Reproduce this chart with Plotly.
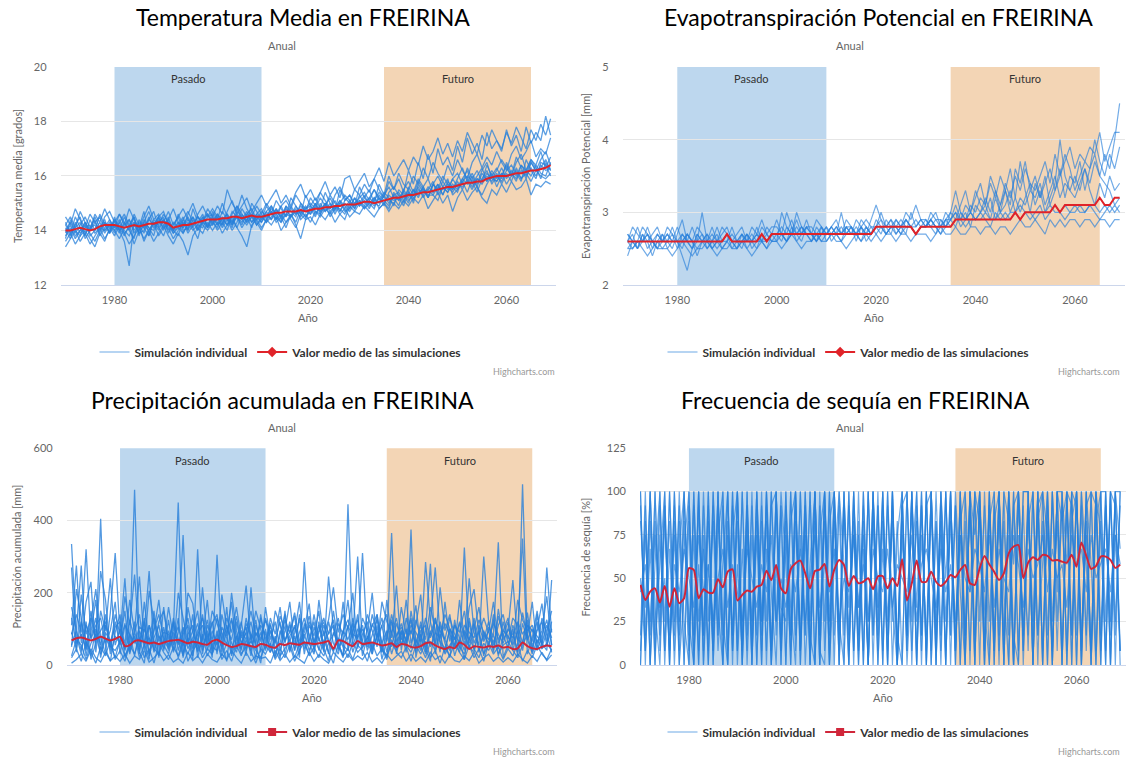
import plotly.graph_objects as go

# ---------------- data ----------------
YEARS = list(range(1970, 2070))

TEMP_MEAN = [14.0,14.0,14.05,14.1,14.05,14.0,14.05,14.15,14.2,14.2,
             14.2,14.15,14.1,14.15,14.2,14.15,14.2,14.25,14.25,14.3,
             14.3,14.25,14.1,14.15,14.2,14.2,14.25,14.3,14.35,14.4,
             14.4,14.4,14.45,14.45,14.5,14.5,14.45,14.5,14.55,14.5,
             14.5,14.55,14.6,14.65,14.65,14.7,14.7,14.7,14.75,14.7,
             14.75,14.8,14.8,14.85,14.85,14.9,14.9,14.95,14.95,14.95,
             15.0,15.05,15.05,15.0,15.05,15.1,15.15,15.2,15.2,15.25,
             15.3,15.3,15.35,15.4,15.4,15.45,15.5,15.55,15.6,15.6,
             15.65,15.7,15.75,15.75,15.8,15.8,15.9,15.95,16.0,16.0,
             16.0,16.05,16.1,16.1,16.15,16.2,16.2,16.25,16.3,16.4]

TEMP_SIM_1 = [14.3,13.9,14.5,14.1,13.8,14.4,14.0,14.6,14.2,13.9,
              14.5,14.0,13.6,12.7,14.3,14.1,14.7,13.8,14.4,14.2,
              14.6,14.3,13.9,14.2,14.5,14.0,14.8,14.3,14.6,14.1,
              14.7,14.4,15.0,14.5,14.2,14.9,14.6,14.3,15.0,14.7,
              14.4,14.9,14.6,15.1,14.8,14.5,15.2,14.9,14.6,15.3,
              14.9,15.2,14.8,15.4,15.0,14.7,15.5,15.1,15.3,14.9,
              15.6,15.2,15.5,15.0,15.7,15.3,16.0,15.5,15.9,15.4,
              16.2,15.7,16.5,15.9,16.8,16.1,17.0,16.4,16.7,16.2,
              17.1,16.5,17.4,16.8,17.2,16.6,17.6,17.0,17.3,16.9,
              17.7,17.1,17.5,16.9,17.8,17.2,17.6,17.3,18.2,17.5]
TEMP_SIM_2 = [13.6,13.9,13.5,13.8,14.0,13.7,13.4,13.9,13.6,14.1,
              13.8,14.2,13.9,13.5,13.8,14.1,13.7,14.0,13.6,13.9,
              14.2,13.8,13.5,13.9,13.6,13.1,13.8,14.1,13.9,14.3,
              14.0,14.3,13.9,14.2,14.5,14.1,13.8,13.4,14.2,14.4,
              14.1,14.4,14.2,14.5,14.0,14.3,14.6,14.2,13.7,14.4,
              14.5,14.2,14.6,14.4,14.7,14.3,14.6,14.8,14.5,14.7,
              14.6,14.9,14.7,14.5,14.8,15.0,14.7,15.0,14.8,15.1,
              14.9,15.2,15.0,15.3,14.8,15.1,15.4,15.0,15.3,14.7,
              15.2,15.5,15.1,15.4,15.6,15.2,15.0,15.5,15.3,15.7,
              15.4,15.8,15.5,15.6,15.9,15.3,15.7,15.6,15.8,15.7]
TEMP_SIM_3 = [14.2,14.5,14.1,14.7,14.3,14.0,14.6,14.3,14.8,14.4,
              14.1,14.6,14.3,14.0,14.5,13.8,14.3,14.7,14.2,14.5,
              14.0,14.4,14.8,14.3,14.1,14.6,15.0,14.5,14.3,14.8,
              14.5,14.9,14.6,15.5,15.0,14.7,15.3,14.8,14.5,14.9,
              14.6,15.0,14.7,14.4,14.9,15.1,14.8,15.3,15.0,14.7,
              15.2,14.9,15.4,15.1,14.8,15.3,15.6,15.2,15.0,15.5,
              15.3,15.7,15.4,15.9,15.5,15.2,15.8,15.5,16.1,15.7,
              15.5,16.0,15.7,16.3,15.9,16.5,16.1,15.8,16.4,16.0,
              16.6,16.2,15.9,16.5,16.8,16.3,16.7,16.4,16.9,16.5,
              16.2,16.8,17.1,16.6,16.9,17.3,16.7,17.0,16.8,17.4]
TEMP_SIM_4 = [13.8,14.1,13.7,14.0,14.2,13.9,13.6,14.0,14.3,13.9,
              14.2,13.9,14.3,14.0,13.7,14.4,14.1,13.8,14.3,14.0,
              14.4,14.1,13.7,14.0,14.3,13.9,14.2,14.5,14.2,14.0,
              14.3,14.1,14.5,14.2,14.4,14.1,14.6,14.3,14.5,14.2,
              14.5,14.3,14.7,14.4,14.6,14.3,14.5,14.8,14.4,14.6,
              14.3,14.7,14.5,14.8,14.6,14.9,14.6,14.4,14.9,14.7,
              15.0,14.8,15.1,14.9,15.2,15.0,14.8,15.3,15.1,15.4,
              15.1,15.3,15.6,15.2,15.5,15.3,15.1,15.6,15.4,15.7,
              15.5,15.8,15.4,15.9,15.6,15.3,15.7,16.0,15.8,16.1,
              15.7,16.0,16.2,15.9,16.1,15.8,16.2,16.0,15.9,16.1]
TEMP_SIM_5 = [14.5,14.2,14.8,14.4,14.1,14.6,14.3,14.0,14.5,14.7,
              14.3,14.6,14.2,14.8,14.4,14.1,14.5,14.9,14.4,14.6,
              14.3,14.7,14.2,14.5,14.8,14.4,14.1,14.6,14.9,14.5,
              14.8,14.5,14.2,14.7,15.1,14.6,14.9,15.2,14.7,15.0,
              15.3,14.9,15.2,15.5,15.0,15.3,14.9,15.4,15.7,15.2,
              15.5,15.1,15.4,15.8,15.3,15.6,15.2,15.9,16.0,15.5,
              15.8,16.1,15.6,15.9,16.3,15.8,16.5,16.0,16.3,16.6,
              16.2,16.7,16.4,17.1,16.6,16.9,17.4,16.8,17.2,16.7,
              17.3,16.9,17.6,17.2,16.8,17.5,17.1,17.7,17.3,17.0,
              17.6,17.2,17.8,17.4,17.0,17.7,17.3,17.9,17.5,18.1]
TEMP_SIM_6 = [13.4,13.7,14.0,13.6,13.9,13.5,13.8,14.1,13.7,14.0,
              14.4,14.0,14.5,14.1,14.6,14.2,13.9,14.4,14.7,14.1,
              13.8,14.3,14.0,14.6,14.2,14.5,14.1,13.7,14.4,14.6,
              14.2,14.6,14.3,14.0,14.6,14.9,14.4,14.7,14.3,14.6,
              14.8,14.4,14.9,14.6,14.3,14.9,14.7,14.5,15.0,14.8,
              15.0,14.8,15.2,14.9,15.3,15.0,14.7,15.1,15.3,15.0,
              15.2,15.4,15.1,15.5,15.2,14.9,15.4,15.6,15.3,15.0,
              15.6,15.3,15.8,15.5,15.2,15.7,16.0,15.6,15.4,15.9,
              16.1,15.7,16.3,15.9,16.2,15.8,16.4,16.0,16.3,15.9,
              16.5,16.1,15.8,16.4,16.2,16.6,16.3,15.9,16.5,16.2]
TEMP_SIM_7 = [14.0,14.3,13.9,14.2,14.5,14.1,14.4,13.8,14.1,14.4,
              14.0,13.7,14.1,14.4,13.9,14.2,13.6,14.0,14.3,13.8,
              14.1,14.5,14.0,14.3,13.9,14.2,14.5,14.0,14.3,14.1,
              14.4,14.0,14.3,14.6,14.2,14.5,14.1,14.4,14.7,14.3,
              14.0,14.4,14.7,14.3,14.5,14.9,14.4,14.1,14.6,14.9,
              14.6,15.0,14.7,15.0,14.5,14.8,15.1,14.7,14.8,15.2,
              14.9,15.1,14.8,15.2,15.0,15.3,15.6,15.2,14.9,15.5,
              15.8,15.4,15.9,15.6,15.2,15.7,15.5,16.0,15.7,15.5,
              15.9,16.3,15.8,16.1,15.7,16.2,16.5,15.9,16.2,16.6,
              16.3,16.0,16.5,16.8,16.2,16.6,16.4,16.9,16.3,16.7]
TEMP_SIM_8 = [14.1,13.8,14.2,14.5,13.7,14.0,14.3,14.5,14.0,14.2,
              13.9,14.3,14.6,14.2,13.5,14.0,14.4,14.1,13.8,14.5,
              14.7,14.2,14.0,13.8,14.4,14.7,14.3,14.0,14.5,14.2,
              14.5,14.2,14.7,14.4,14.0,14.3,14.8,14.5,14.1,14.6,
              14.3,14.7,14.4,14.8,14.5,14.1,14.6,14.3,14.8,14.5,
              14.7,15.0,14.6,14.9,15.2,14.8,15.0,15.3,15.1,14.8,
              15.3,15.0,15.2,15.5,15.1,15.4,15.2,14.9,15.5,15.3,
              15.0,15.5,15.2,15.6,15.9,15.4,15.7,15.3,15.8,15.6,
              15.4,15.9,16.2,15.7,16.0,16.3,15.8,16.1,15.6,16.0,
              16.4,16.0,16.7,16.3,15.9,16.5,16.2,16.6,16.9,16.4]
TEMP_SIM_9 = [14.2,13.9,14.1,14.3,13.9,14.1,14.2,13.9,14.3,14.1,
              14.3,14.0,14.2,14.4,14.0,14.3,14.1,14.4,14.2,14.5,
              14.2,14.4,14.0,14.3,14.1,14.4,14.2,14.5,14.3,14.6,
              14.3,14.6,14.4,14.2,14.7,14.5,14.3,14.6,14.8,14.4,
              14.7,14.5,14.8,14.6,14.9,14.5,14.8,14.6,14.9,14.7,
              14.6,14.9,14.7,15.0,14.8,15.1,14.7,15.0,14.8,15.2,
              14.9,15.2,15.0,14.8,15.3,15.1,14.9,15.4,15.1,15.5,
              15.2,15.5,15.3,15.6,15.2,15.7,15.4,15.8,15.5,15.9,
              15.6,15.9,15.7,16.0,15.6,16.1,15.8,16.2,15.9,16.3,
              15.9,16.2,16.0,16.4,16.1,16.5,16.2,16.3,16.6,16.2]
TEMP_SIM_10 = [13.9,14.2,13.8,14.0,14.3,13.8,14.0,14.3,13.9,14.2,
               14.0,14.3,13.9,14.1,14.3,13.9,14.2,14.0,14.3,14.1,
               14.4,14.0,14.3,14.1,13.9,14.3,14.0,14.2,14.5,14.1,
               14.5,14.2,14.4,14.6,14.3,14.5,14.2,14.6,14.3,14.5,
               14.3,14.6,14.4,14.7,14.5,14.8,14.5,14.7,14.5,14.8,
               14.9,14.6,14.9,14.7,15.0,14.6,15.0,14.8,15.1,14.8,
               15.1,14.9,15.2,15.0,14.9,15.3,15.0,15.3,15.4,15.1,
               15.4,15.1,15.5,15.3,15.6,15.4,15.7,15.3,15.7,15.5,
               15.8,15.5,15.9,15.6,15.9,15.7,16.0,15.8,16.1,15.7,
               16.1,15.8,16.3,15.9,16.2,16.0,16.4,16.1,16.0,16.5]
TEMP_SIM_11 = [14.0,13.7,14.3,13.9,14.1,14.2,13.9,14.1,14.0,14.3,
               14.1,14.4,14.0,13.8,14.2,14.0,14.3,14.1,14.0,14.4,
               14.1,14.2,13.9,14.1,14.4,14.0,14.4,14.1,14.3,14.2,
               14.2,14.5,14.1,14.4,14.3,14.6,14.4,14.2,14.5,14.4,
               14.6,14.3,14.5,14.8,14.4,14.6,14.9,14.6,14.7,14.5,
               14.8,14.5,15.0,14.7,14.9,14.8,15.1,14.9,14.7,15.0,
               15.1,14.8,15.0,15.2,14.8,15.0,15.3,15.1,15.2,14.9,
               15.4,15.2,15.4,15.5,15.3,15.3,15.6,15.5,15.6,15.4,
               15.7,15.6,15.8,15.5,15.9,15.8,16.1,15.9,15.8,16.1,
               16.0,16.1,15.9,16.2,16.0,16.3,16.0,16.4,16.2,16.3]
TEMP_SIM_12 = [13.7,14.4,14.0,13.8,14.3,14.0,14.5,14.1,14.4,13.9,
               14.4,14.1,13.8,14.2,14.5,13.9,14.0,14.5,14.1,14.3,
               14.5,13.9,14.2,14.5,14.0,14.1,14.5,14.2,14.1,14.5,
               14.6,14.3,14.2,14.5,14.1,14.7,14.5,14.4,14.6,14.2,
               14.4,14.7,14.9,14.5,14.3,14.6,14.5,14.9,14.6,14.4,
               14.9,14.7,14.6,15.0,14.7,14.9,14.8,14.6,15.0,14.9,
               15.0,15.3,14.9,15.1,15.4,15.2,15.1,15.0,15.3,15.2,
               15.5,15.0,15.7,15.4,15.5,15.8,15.3,15.6,15.9,15.3,
               15.5,15.8,16.0,15.8,15.4,15.9,16.2,15.7,16.0,15.8,
               16.2,16.4,16.1,15.8,16.6,16.2,15.9,16.5,16.4,16.0]

ET_MEAN = [2.6,2.6,2.6,2.6,2.6,2.6,2.6,2.6,2.6,2.6,
           2.6,2.6,2.6,2.6,2.6,2.6,2.6,2.6,2.6,2.6,
           2.7,2.6,2.6,2.6,2.6,2.6,2.6,2.7,2.6,2.7,
           2.7,2.7,2.7,2.7,2.7,2.7,2.7,2.7,2.7,2.7,
           2.7,2.7,2.7,2.7,2.7,2.7,2.7,2.7,2.7,2.7,
           2.8,2.8,2.8,2.8,2.8,2.8,2.8,2.8,2.7,2.8,
           2.8,2.8,2.8,2.8,2.8,2.8,2.9,2.9,2.9,2.9,
           2.9,2.9,2.9,2.9,2.9,2.9,2.9,2.9,3.0,2.9,
           3.0,3.0,3.0,3.0,3.0,3.0,3.1,3.0,3.1,3.1,
           3.1,3.1,3.1,3.1,3.1,3.2,3.1,3.1,3.2,3.2]

ET_SIM_1 = [2.6,2.7,2.5,2.6,2.8,2.6,2.5,2.7,2.6,2.8,
            2.6,2.4,2.2,2.5,2.7,2.6,2.5,2.6,2.7,2.5,
            2.6,2.8,2.6,2.5,2.7,2.6,2.8,2.6,2.5,2.7,
            2.9,2.7,2.6,2.8,2.7,2.6,2.8,2.7,2.6,2.8,
            2.7,2.8,2.7,2.6,2.8,2.7,2.7,2.8,2.6,2.7,
            2.8,2.7,2.9,2.8,2.7,2.8,2.9,2.8,2.7,2.8,
            2.9,2.8,2.7,2.9,2.8,2.9,3.1,2.9,3.0,2.8,
            3.1,3.0,3.2,3.0,3.3,3.1,3.4,3.2,3.5,3.3,
            3.6,3.4,3.3,3.5,3.7,3.4,3.8,3.5,3.7,3.9,
            3.6,3.8,3.7,3.9,3.8,4.1,3.7,3.9,4.1,4.1]
ET_SIM_2 = [2.5,2.6,2.5,2.7,2.5,2.6,2.5,2.5,2.6,2.5,
            2.7,2.9,2.6,2.5,2.6,3.0,2.6,2.5,2.6,2.5,
            2.5,2.6,2.5,2.6,2.7,2.5,2.6,2.6,2.7,2.6,
            2.7,2.8,2.7,2.9,2.7,2.8,2.7,2.6,2.7,2.8,
            2.7,2.7,2.8,2.7,2.8,2.7,2.9,2.8,2.7,2.8,
            2.7,2.8,2.8,2.9,2.8,2.7,2.8,2.8,2.9,2.8,
            2.8,2.9,2.8,2.7,2.9,2.9,2.8,3.0,2.9,3.0,
            2.9,3.0,3.1,2.9,3.2,3.0,3.1,3.3,3.0,3.2,
            3.1,3.3,3.2,3.4,3.1,3.3,3.5,3.2,3.4,3.3,
            3.5,3.3,3.6,3.4,3.7,3.5,3.8,3.6,4.0,4.5]
ET_SIM_3 = [2.7,2.6,2.8,2.6,2.7,2.5,2.7,2.6,2.8,2.7,
            2.5,2.7,2.6,2.8,2.6,2.7,2.5,2.6,2.8,2.6,
            2.7,2.6,2.5,2.7,2.6,2.8,2.7,2.9,2.7,2.6,
            2.6,2.7,3.0,2.8,2.6,2.7,2.9,2.7,2.6,2.7,
            2.8,2.6,2.7,3.0,2.7,2.8,2.6,2.8,2.7,2.9,
            3.1,2.9,2.8,2.7,2.9,2.8,2.7,3.0,2.8,2.9,
            2.8,3.0,2.9,2.8,3.0,2.9,3.0,2.9,3.1,3.0,
            3.3,3.1,3.0,3.2,2.9,3.1,3.3,3.0,3.2,3.7,
            3.3,3.0,3.4,3.2,3.5,3.1,3.3,3.6,3.2,3.5,
            3.4,3.7,3.3,3.6,3.8,3.5,3.4,3.3,3.1,3.2]
ET_SIM_4 = [2.5,2.5,2.6,2.5,2.4,2.5,2.6,2.5,2.5,2.4,
            2.5,2.6,2.5,2.4,2.5,2.5,2.6,2.5,2.4,2.5,
            2.6,2.5,2.5,2.6,2.5,2.4,2.5,2.6,2.5,2.6,
            2.6,2.5,2.6,2.7,2.6,2.5,2.6,2.6,2.7,2.6,
            2.6,2.7,2.6,2.6,2.5,2.6,2.7,2.6,2.7,2.6,
            2.7,2.6,2.7,2.7,2.6,2.7,2.7,2.6,2.7,2.7,
            2.7,2.6,2.7,2.8,2.7,2.7,2.8,2.7,2.7,2.8,
            2.8,2.7,2.8,2.8,2.7,2.8,2.8,2.7,2.8,2.9,
            2.8,2.8,2.9,2.8,2.7,2.9,2.8,2.9,2.8,2.9,
            2.9,2.8,2.9,2.9,2.8,2.9,2.9,2.8,2.9,2.9]
ET_SIM_5 = [2.6,2.8,2.7,2.6,2.6,2.7,2.8,2.6,2.7,2.6,
            2.8,2.6,2.7,2.6,2.8,2.7,2.6,2.8,2.6,2.7,
            2.8,2.6,2.7,2.8,2.6,2.7,2.6,2.8,2.7,2.8,
            2.8,2.7,2.6,2.7,2.8,2.7,2.8,2.8,2.7,2.6,
            2.7,2.8,2.9,2.7,2.8,2.8,2.7,2.8,2.9,2.8,
            2.8,2.9,2.7,2.8,2.9,2.8,2.9,2.8,2.8,2.9,
            2.9,2.8,2.9,2.9,2.8,2.9,3.0,2.8,2.9,3.0,
            2.9,3.0,2.9,2.8,3.0,2.9,3.0,2.9,3.0,3.1,
            3.0,2.9,3.0,3.1,2.9,3.0,3.1,3.0,2.9,3.0,
            3.1,3.0,3.0,3.1,3.0,2.9,3.0,3.1,3.0,3.1]
ET_SIM_6 = [2.4,2.6,2.5,2.7,2.6,2.4,2.6,2.7,2.5,2.6,
            2.6,2.5,2.7,2.6,2.4,2.6,2.7,2.6,2.5,2.6,
            2.6,2.7,2.6,2.7,2.5,2.6,2.7,2.6,2.8,2.7,
            2.7,2.6,2.8,2.7,3.0,2.8,2.7,2.6,2.8,2.7,
            2.7,2.8,2.7,2.6,2.7,2.8,2.7,2.6,2.8,2.7,
            2.9,2.8,2.7,2.8,2.8,2.7,2.9,2.8,2.7,2.8,
            2.8,2.9,2.8,2.7,2.8,3.0,3.3,3.0,2.9,3.1,
            3.0,3.2,3.1,3.4,3.2,3.5,3.3,3.1,3.6,3.4,
            3.7,3.3,3.5,3.2,3.4,3.6,3.3,3.5,3.8,3.6,
            3.3,3.5,3.7,3.6,4.0,3.7,3.5,3.8,3.6,3.9]
ET_SIM_7 = [2.6,2.5,2.6,2.6,2.7,2.6,2.5,2.6,2.6,2.7,
            2.6,2.6,2.7,2.6,2.5,2.6,2.6,2.7,2.6,2.6,
            2.7,2.6,2.6,2.7,2.6,2.6,2.7,2.6,2.6,2.7,
            2.7,2.7,2.6,2.7,2.7,2.8,2.7,2.7,2.6,2.7,
            2.8,2.7,2.7,2.8,2.7,2.7,2.8,2.7,2.8,2.7,
            2.8,2.8,2.7,2.8,2.8,2.9,2.8,2.8,2.7,2.8,
            2.8,2.9,2.8,2.8,2.9,2.8,2.9,2.9,2.8,2.9,
            2.9,2.9,3.0,2.9,2.9,3.0,2.9,3.0,3.0,2.9,
            3.0,3.0,2.9,3.0,3.0,3.1,3.0,3.0,3.1,3.0,
            3.0,3.1,3.0,3.1,3.1,3.0,3.1,3.0,3.1,3.0]
ET_SIM_8 = [2.7,2.6,2.6,2.8,2.7,2.6,2.7,2.6,2.7,2.6,
            2.6,2.7,2.6,2.5,2.7,2.6,2.7,2.5,2.6,2.8,
            2.7,2.5,2.6,2.6,2.7,2.6,2.5,2.7,2.6,2.7,
            2.6,3.0,2.8,2.7,2.9,2.7,2.8,2.7,2.9,2.8,
            2.6,2.7,2.8,2.7,2.9,2.8,2.7,2.9,2.8,2.7,
            2.8,3.0,2.8,2.9,2.7,2.8,3.0,2.9,3.1,2.9,
            2.8,2.9,3.0,2.8,2.9,3.0,2.9,3.1,3.3,3.0,
            3.2,3.4,3.1,3.5,3.3,3.0,3.3,3.6,3.2,3.0,
            3.2,3.4,3.1,3.3,3.0,3.2,3.4,4.0,3.5,3.3,
            3.2,3.4,3.6,3.3,3.1,3.4,3.2,3.5,3.3,3.4]

PR_MEAN = [68,74,76,72,68,72,78,73,68,72,
           78,52,55,66,68,64,60,62,58,62,
           66,68,70,65,60,64,62,58,56,66,
           70,62,55,50,52,58,56,52,50,58,
           56,50,48,58,55,60,58,56,62,60,
           58,60,62,66,45,68,66,58,52,66,
           58,60,62,58,54,56,60,50,58,56,
           50,48,52,60,62,54,48,44,50,46,
           62,56,44,52,50,48,52,50,54,48,
           50,44,46,62,52,46,44,50,54,52]

PR_SIM_1 = [335,80,30,120,15,60,405,45,10,90,
            140,20,65,485,35,5,110,70,25,160,
            50,95,450,30,75,15,320,40,85,20,
            305,60,10,130,45,90,25,215,55,5,
            100,35,70,15,150,40,80,20,285,60,
            30,120,45,10,90,55,20,445,65,140,
            25,80,40,110,15,70,365,30,95,50,
            375,20,85,45,10,130,60,35,100,25,
            70,15,120,40,90,30,60,85,340,20,
            55,100,25,500,70,35,140,45,270,90]
PR_SIM_2 = [50,210,130,25,90,180,40,110,60,20,
            70,150,30,95,245,60,15,130,80,45,
            125,35,90,360,55,140,20,75,180,30,
            95,45,160,25,70,120,40,85,15,140,
            60,110,25,80,140,35,90,175,45,70,
            120,40,95,30,150,60,25,110,75,300,
            45,100,30,140,55,20,120,65,90,35,
            150,70,40,95,280,30,110,60,20,125,
            45,325,60,130,35,95,50,140,25,80,
            120,40,95,350,30,75,150,60,40,235]
PR_SIM_3 = [20,45,10,65,35,5,50,25,70,15,
            40,10,55,30,75,20,45,5,60,35,
            15,50,25,70,10,40,60,20,45,30,
            65,15,40,10,55,25,70,35,5,45,
            30,60,15,45,20,55,10,40,65,25,
            50,20,70,35,5,60,25,45,15,55,
            40,10,60,25,45,15,70,35,20,50,
            10,55,30,65,20,40,5,50,25,60,
            35,15,55,20,45,10,60,30,50,15,
            45,25,60,10,40,20,55,30,15,45]
PR_SIM_4 = [160,95,275,40,120,210,75,30,145,310,
            85,240,45,120,30,175,60,150,20,105,
            40,130,70,25,160,90,45,215,70,120,
            30,140,80,175,50,110,220,60,125,35,
            160,70,120,40,95,175,55,130,30,110,
            80,150,35,245,100,55,175,40,130,70,
            310,60,140,90,35,180,75,220,40,130,
            85,165,50,285,120,60,215,95,140,45,
            180,70,240,90,55,300,120,35,155,70,
            95,235,60,145,80,175,45,130,90,150]
PR_SIM_5 = [110,275,60,175,230,35,150,95,240,55,
            100,60,180,90,140,40,205,120,65,90,
            85,40,200,125,60,95,150,30,110,70,
            130,90,55,200,95,40,130,70,150,100,
            45,130,85,160,60,120,40,90,130,55,
            140,65,110,70,35,115,85,180,50,100,
            65,140,95,50,175,120,90,45,160,85,
            130,45,120,70,160,95,35,175,65,110,
            90,150,45,100,160,70,120,55,110,140,
            70,130,110,60,145,50,100,170,65,120]
PR_SIM_6 = [5,15,30,10,45,20,8,35,12,25,
            10,30,5,25,15,40,8,20,35,12,
            28,8,18,5,35,12,25,6,30,15,
            8,30,15,40,20,5,35,10,25,18,
            22,5,40,12,30,8,25,15,5,35,
            10,28,15,5,35,20,8,30,12,25,
            15,35,8,20,5,30,12,25,38,10,
            30,10,22,8,35,15,25,5,28,12,
            8,25,12,35,5,20,30,10,22,8,
            20,8,30,15,5,25,10,35,12,28]
PR_SIM_7 = [270,35,195,85,130,60,260,180,40,120,
            55,190,110,250,65,120,30,95,180,60,
            160,75,105,55,200,170,60,140,40,95,
            55,195,100,70,135,60,90,150,80,110,
            85,45,150,110,70,90,145,65,100,170,
            35,180,80,125,215,90,140,100,200,45,
            130,95,200,60,110,140,50,115,70,180,
            60,110,195,35,120,270,80,140,100,70,
            115,55,160,210,85,130,90,175,60,95,
            130,60,180,125,95,110,60,95,190,55]
PR_SIM_8 = [85,140,90,320,70,110,130,60,95,175,
            30,110,85,60,105,95,260,40,120,150,
            70,115,55,90,130,45,85,110,55,150,
            115,70,130,90,160,75,105,40,90,65,
            125,90,60,135,100,65,110,50,75,120,
            60,95,130,85,110,40,95,125,85,75,
            100,50,115,80,130,65,140,80,115,60,
            110,90,65,130,75,120,95,70,130,85,
            60,110,90,75,125,90,70,115,85,60,
            100,75,120,85,110,95,80,60,110,75]
PR_SIM_9 = [90,45,120,65,25,100,55,140,30,80,
            60,115,35,90,50,130,25,75,110,40,
            95,55,130,20,85,110,35,70,125,50,
            40,105,75,30,120,60,90,25,110,70,
            130,55,20,95,65,110,40,140,60,30,
            105,75,40,120,60,30,95,70,115,50,
            85,120,45,75,110,35,90,130,55,100,
            45,125,80,30,95,55,120,70,40,110,
            75,40,130,60,95,25,105,80,45,120,
            60,90,35,115,70,100,40,85,125,55]
PR_SIM_10 = [55,95,40,110,75,130,20,90,65,105,
             120,40,85,25,95,60,110,35,80,55,
             30,90,60,105,45,75,115,50,95,40,
             85,50,110,60,35,95,70,120,45,90,
             40,95,65,120,30,80,105,55,90,135,
             65,110,55,90,125,45,70,105,35,80,
             110,40,85,125,60,95,30,80,105,65,
             95,60,110,50,85,130,65,45,100,75,
             35,95,70,115,40,85,60,125,70,95,
             80,55,95,40,110,65,120,50,90,35]
PR_SIM_11 = [130,60,85,45,150,75,95,120,50,140,
             85,45,125,70,40,100,55,95,140,75,
             55,120,40,85,110,25,95,130,60,115,
             140,35,95,125,80,45,115,85,60,130,
             70,115,45,60,125,90,135,30,115,85,
             45,90,120,60,85,130,55,40,95,125,
             55,75,110,140,35,85,125,50,95,70,
             125,35,95,110,50,90,75,115,85,50,
             120,85,50,35,110,65,95,40,135,85,
             45,110,70,60,125,40,95,120,55,100]
PR_SIM_12 = [25,70,55,15,60,85,30,75,50,40,
             65,25,50,80,20,55,75,45,30,70,
             45,75,20,60,30,70,40,85,25,55,
             75,25,60,45,80,30,50,65,40,20,
             55,35,80,25,45,70,20,60,85,40,
             70,45,25,60,40,75,50,20,65,35,
             50,65,30,85,45,25,60,40,75,55,
             35,70,50,20,65,40,85,30,55,75,
             50,30,75,45,20,60,40,70,30,55,
             65,40,20,55,85,30,70,45,60,40]

SQ_MEAN = [46.2,37.5,42.3,44.2,36,45.6,33.6,44.2,35.6,38.5,
           55.8,54.8,38.5,43.7,41.7,41.7,49.4,44.8,53.8,55.2,
           37.1,40.4,42.9,42.3,45.2,46.2,54.4,49,57.7,44.2,
           41.3,55.2,58.7,60.2,52.9,44.2,54.2,55,58.3,45.2,
           55,60.6,57.7,45.6,51.3,47.1,48,50,43.7,51,
           51.3,44.2,50,45.6,61,37.1,47.1,60.2,48,48,
           53.8,48,45.6,48,51.9,50.6,54.8,57.7,47.1,46.2,
           55.8,62.9,57.9,53.8,49,52.9,64.4,68.3,69.2,50,
           59,62.1,60.6,63.5,62.9,60.2,60.6,59.6,59,63.5,
           56.7,70.6,63,55.4,57,62.5,62.5,60.6,56,58]

SQ_SIM_1 = [100,0,83,17,100,0,67,8,100,25,
            0,100,8,92,0,100,33,0,100,17,
            83,0,100,8,75,0,100,42,0,92,
            0,100,17,100,0,58,100,0,92,8,
            100,25,0,100,8,83,0,100,17,100,
            0,92,33,0,100,8,100,0,75,17,
            100,0,100,25,83,0,100,8,100,0,
            92,17,100,0,100,42,0,100,8,100,
            100,0,92,100,17,100,8,100,0,83,
            100,8,100,58,0,100,25,100,0,100]
SQ_SIM_2 = [0,75,17,100,8,92,0,100,25,67,
            100,8,100,0,83,17,100,25,0,92,
            8,100,0,75,17,100,0,92,100,8,
            100,0,83,8,100,17,0,100,25,100,
            0,100,58,0,100,17,92,0,100,33,
            100,0,100,17,0,100,25,83,0,100,
            8,100,17,100,0,92,0,100,42,100,
            0,100,25,92,0,100,83,0,100,58,
            17,100,0,100,75,0,100,83,100,17,
            100,0,92,100,8,100,100,0,100,67]
SQ_SIM_3 = [50,8,100,33,0,83,17,100,0,42,
            92,0,58,17,100,0,75,100,8,100,
            0,67,8,100,0,92,25,100,17,100,
            58,8,100,0,83,25,100,8,0,83,
            100,0,100,33,75,0,100,25,83,0,
            67,17,100,8,92,0,58,100,17,100,
            0,83,0,100,17,100,42,0,100,75,
            100,33,0,83,100,8,100,58,100,0,
            83,100,17,58,100,25,83,0,100,92,
            0,100,58,0,100,75,0,100,92,8]
SQ_SIM_4 = [17,100,0,58,100,25,83,0,67,100,
            8,75,0,100,25,83,8,58,100,0,
            100,17,92,0,100,25,83,0,58,17,
            92,33,0,100,17,100,0,75,100,0,
            58,100,17,92,0,100,8,100,0,92,
            8,100,0,75,100,17,100,33,100,0,
            92,0,100,50,100,8,83,100,0,100,
            83,0,100,8,100,0,100,17,0,100,
            100,25,100,0,100,8,100,100,58,100,
            17,100,8,100,92,0,100,25,100,100]
SQ_SIM_5 = [83,33,100,8,58,100,0,92,17,83,
            0,100,25,67,0,92,17,100,0,75,
            100,0,75,25,92,8,100,0,100,33,
            25,83,100,8,75,0,100,17,100,25,
            100,8,92,0,100,33,75,0,100,8,
            100,25,83,0,92,100,0,100,8,92,
            100,17,75,8,100,0,100,17,92,0,
            100,8,83,100,17,100,0,92,100,8,
            100,0,83,100,0,100,42,100,0,100,
            92,0,100,0,83,100,0,100,17,100]
SQ_SIM_6 = [0,92,0,83,17,100,8,75,0,100,
            25,0,92,0,58,8,100,0,83,8,
            58,8,100,0,83,17,67,0,100,8,
            83,0,92,17,100,0,83,0,100,17,
            83,0,100,8,92,0,67,0,100,0,
            83,0,100,0,75,17,100,0,92,8,
            100,0,92,0,100,8,75,0,100,17,
            92,0,100,17,83,0,100,0,75,17,
            100,0,100,8,92,0,100,0,100,0,
            100,17,75,8,100,8,92,0,75,8]
SQ_SIM_7 = [100,8,67,0,92,8,100,17,83,0,
            100,17,100,8,100,0,92,17,100,8,
            100,0,92,17,100,0,100,8,92,0,
            100,17,100,0,92,8,100,0,100,0,
            92,17,100,0,83,8,100,0,92,17,
            100,0,92,0,100,8,92,0,100,0,
            100,8,100,0,92,17,100,0,100,8,
            100,0,92,8,100,0,100,0,100,17,
            92,0,100,0,100,0,100,8,100,0,
            100,8,100,0,100,17,100,0,100,0]
SQ_SIM_8 = [42,58,25,75,33,50,8,58,42,67,
            50,33,75,42,58,25,50,67,33,58,
            42,25,67,50,33,58,42,75,25,50,
            33,58,42,67,25,50,75,33,58,42,
            67,25,50,42,75,33,58,25,67,50,
            42,67,33,58,50,42,75,25,58,67,
            50,33,67,42,58,25,75,50,42,67,
            58,42,75,33,67,50,42,75,58,33,
            67,50,58,75,42,67,50,58,33,75,
            58,67,42,75,50,58,67,42,75,58]
SQ_SIM_9 = [92,17,100,0,75,8,100,25,92,0,
            83,0,100,17,92,8,100,0,75,17,
            100,8,83,0,100,25,92,8,100,0,
            75,17,100,8,92,0,100,17,83,0,
            100,0,92,17,100,8,83,0,100,25,
            92,8,100,0,83,17,100,8,92,0,
            100,25,83,0,100,8,92,17,100,0,
            100,8,92,0,100,17,75,0,100,8,
            92,17,100,0,83,8,100,0,92,17,
            100,0,83,8,100,0,92,17,100,8]
SQ_SIM_10 = [8,83,0,100,25,92,0,83,8,100,
             17,92,0,75,8,100,17,92,0,100,
             8,100,17,92,0,83,8,100,25,92,
             0,100,8,75,17,100,0,92,8,100,
             17,92,0,100,8,75,0,100,17,92,
             0,100,25,83,0,100,8,92,17,100,
             0,83,8,100,17,92,0,83,8,100,
             25,92,0,100,8,83,17,100,0,92,
             8,100,17,83,0,100,25,92,8,100,
             0,92,17,100,0,83,8,100,25,92]

TITLES = ["Temperatura Media en FREIRINA", "Evapotranspiración Potencial en FREIRINA",
          "Precipitación acumulada en FREIRINA", "Frecuencia de sequía en FREIRINA"]
YTITLES = ["Temperatura media [grados]", "Evapotranspiración Potencial [mm]",
           "Precipitación acumulada [mm]", "Frecuencia de sequía [%]"]
X_TICKS = [1980, 2000, 2020, 2040, 2060]
Y_TICKS = [[12, 14, 16, 18, 20], [2, 3, 4, 5], [0, 200, 400, 600], [0, 25, 50, 75, 100, 125]]
BANDS = [("Pasado", 1980, 2010), ("Futuro", 2035, 2065)]
LEGEND_NAMES = ["Simulación individual", "Valor medio de las simulaciones"]

SIMS = [
    [TEMP_SIM_1, TEMP_SIM_2, TEMP_SIM_3, TEMP_SIM_4, TEMP_SIM_5, TEMP_SIM_6,
     TEMP_SIM_7, TEMP_SIM_8, TEMP_SIM_9, TEMP_SIM_10, TEMP_SIM_11, TEMP_SIM_12],
    [ET_SIM_1, ET_SIM_2, ET_SIM_3, ET_SIM_4, ET_SIM_5, ET_SIM_6, ET_SIM_7, ET_SIM_8],
    [PR_SIM_1, PR_SIM_2, PR_SIM_3, PR_SIM_4, PR_SIM_5, PR_SIM_6,
     PR_SIM_7, PR_SIM_8, PR_SIM_9, PR_SIM_10, PR_SIM_11, PR_SIM_12],
    [SQ_SIM_1, SQ_SIM_2, SQ_SIM_3, SQ_SIM_4, SQ_SIM_5, SQ_SIM_6,
     SQ_SIM_7, SQ_SIM_8, SQ_SIM_9, SQ_SIM_10],
]
MEANS = [TEMP_MEAN, ET_MEAN, PR_MEAN, SQ_MEAN]

# ---------------- layout geometry (pixels) ----------------
W, H = 1128, 761
FONT = "Lato"
SIM_ALPHA = [0.75, 0.65, 0.8, 0.68]
SIM_WIDTH = [1.3, 1.2, 1.3, 1.2]
MEAN_COLORS = ["#e02329", "#e02329", "#d0263a", "#d0263a"]
PASADO_COLOR = "#bdd7ee"
FUTURO_COLOR = "#f3d5b5"

PANELS = [
    dict(px=(60.6, 555.5), xr=(1969, 2070), py=(67, 285), yr=(12, 20), ty=17, lx=281, ytx=18, sym="diamond", cred=557, spline=False),
    dict(px=(622.6, 1124.6), xr=(1969, 2070), py=(67, 285), yr=(2, 5), ty=17, lx=849, ytx=586, sym="diamond", cred=1122, spline=False),
    dict(px=(66.7, 556.5), xr=(1969, 2070), py=(448.3, 665), yr=(0, 600), ty=400, lx=281, ytx=17, sym="square", cred=557, spline=True),
    dict(px=(640, 1125.5), xr=(1969.9, 2070.1), py=(448.3, 665), yr=(0, 125), ty=400, lx=849, ytx=586, sym="square", cred=1122, spline=True),
]
TITLE_X = [303, 878, 282, 855]
SUB_X = [282, 850, 282, 850]

# vertical calibration of the rendered page (observed offset / scale)
V_OFF, V_SCALE = 7.0, 0.983


def fx(p):
    return p / W


def fy(p):
    return 1 - ((p - V_OFF) / V_SCALE) / H


fig = go.Figure()
annotations = []
shapes = []
layout = dict(width=W, height=H, margin=dict(l=0, r=0, t=0, b=0),
              paper_bgcolor="white", plot_bgcolor="white", showlegend=True,
              font=dict(family=FONT, color="#666666"))

for i, p in enumerate(PANELS):
    n = i + 1
    xa = "x" if n == 1 else f"x{n}"
    ya = "y" if n == 1 else f"y{n}"
    leg = "legend" if n == 1 else f"legend{n}"
    top, bot = p["py"]
    sim_color = f"rgba(40,128,218,{SIM_ALPHA[i]})"
    mean_color = MEAN_COLORS[i]

    layout[f"xaxis{'' if n == 1 else n}"] = dict(
        domain=[fx(p["px"][0]), fx(p["px"][1])], range=list(p["xr"]), anchor=ya,
        tickvals=X_TICKS, showgrid=False, zeroline=False, showline=True,
        linecolor="#ccd6eb", linewidth=1, ticks="", ticklabelstandoff=5,
        tickfont=dict(family=FONT, size=11, color="#666666"), fixedrange=True)
    layout[f"yaxis{'' if n == 1 else n}"] = dict(
        domain=[fy(bot), fy(top)], range=list(p["yr"]), anchor=xa,
        tickvals=Y_TICKS[i], showgrid=True, gridcolor="#e6e6e6", gridwidth=1,
        zeroline=False, showline=False, ticks="", ticklabelstandoff=13,
        tickfont=dict(family=FONT, size=11, color="#666666"), fixedrange=True)

    fig.add_trace(go.Scatter(x=[None], y=[None], mode="lines", name=LEGEND_NAMES[0],
                             line=dict(color="rgba(40,128,218,0.45)", width=1.5),
                             xaxis=xa, yaxis=ya, legend=leg, hoverinfo="skip"))
    fig.add_trace(go.Scatter(x=[None], y=[None], mode="lines+markers", name=LEGEND_NAMES[1],
                             line=dict(color=mean_color, width=2),
                             marker=dict(symbol=p["sym"], size=8, color=mean_color),
                             xaxis=xa, yaxis=ya, legend=leg, hoverinfo="skip"))
    for s in SIMS[i]:
        fig.add_trace(go.Scatter(x=YEARS[:len(s)], y=s, mode="lines",
                                 line=dict(color=sim_color, width=SIM_WIDTH[i]),
                                 showlegend=False, xaxis=xa, yaxis=ya, legend=leg))
    m = MEANS[i]
    fig.add_trace(go.Scatter(x=YEARS[:len(m)], y=m, mode="lines",
                             line=dict(color=mean_color, width=2,
                                       shape="spline" if p["spline"] else "linear",
                                       smoothing=0.6),
                             showlegend=False, xaxis=xa, yaxis=ya, legend=leg))

    layout[leg] = dict(x=fx(p["lx"]), y=fy(bot + 67), xanchor="center", yanchor="middle",
                       orientation="h", bgcolor="rgba(0,0,0,0)", itemwidth=30,
                       font=dict(family=FONT, size=12, color="#333333", weight="bold"),
                       traceorder="normal")

    for label, x0, x1 in BANDS:
        shapes.append(dict(type="rect", xref=xa, yref=f"{ya} domain", x0=x0, x1=x1, y0=0, y1=1,
                           fillcolor=PASADO_COLOR if label == "Pasado" else FUTURO_COLOR,
                           line=dict(width=0), layer="below"))
        annotations.append(dict(x=(x0 + x1) / 2, xref=xa, y=fy(top + 12), yref="paper",
                                text=label, showarrow=False, xanchor="center", yanchor="middle",
                                font=dict(family=FONT, size=11, color="#333333")))

    annotations.append(dict(x=fx(TITLE_X[i]), y=fy(p["ty"]), xref="paper", yref="paper",
                            text=TITLES[i], showarrow=False, xanchor="center", yanchor="middle",
                            font=dict(family=FONT, size=23, color="#000000")))
    annotations.append(dict(x=fx(SUB_X[i]), y=fy(top - 21), xref="paper", yref="paper",
                            text="Anual", showarrow=False, xanchor="center", yanchor="middle",
                            font=dict(family=FONT, size=11, color="#666666")))
    annotations.append(dict(x=fx(p["ytx"]), y=fy((top + bot) / 2), xref="paper", yref="paper",
                            text=YTITLES[i], showarrow=False, textangle=-90,
                            xanchor="center", yanchor="middle",
                            font=dict(family=FONT, size=11, color="#666666")))
    annotations.append(dict(x=fx((p["px"][0] + p["px"][1]) / 2), y=fy(bot + 33), xref="paper", yref="paper",
                            text="Año", showarrow=False, xanchor="center", yanchor="middle",
                            font=dict(family=FONT, size=11, color="#666666")))
    annotations.append(dict(x=fx(p["cred"]), y=fy(bot + 87), xref="paper", yref="paper",
                            text="Highcharts.com", showarrow=False, xanchor="right", yanchor="middle",
                            font=dict(family=FONT, size=9, color="#999999")))

layout["annotations"] = annotations
layout["shapes"] = shapes
fig.update_layout(**layout)
fig.write_html("out.html", config={"displayModeBar": False},
               post_script="document.body.style.margin='0';document.body.style.padding='0';"
                           "document.body.style.overflow='hidden';window.scrollTo(0,0);")
